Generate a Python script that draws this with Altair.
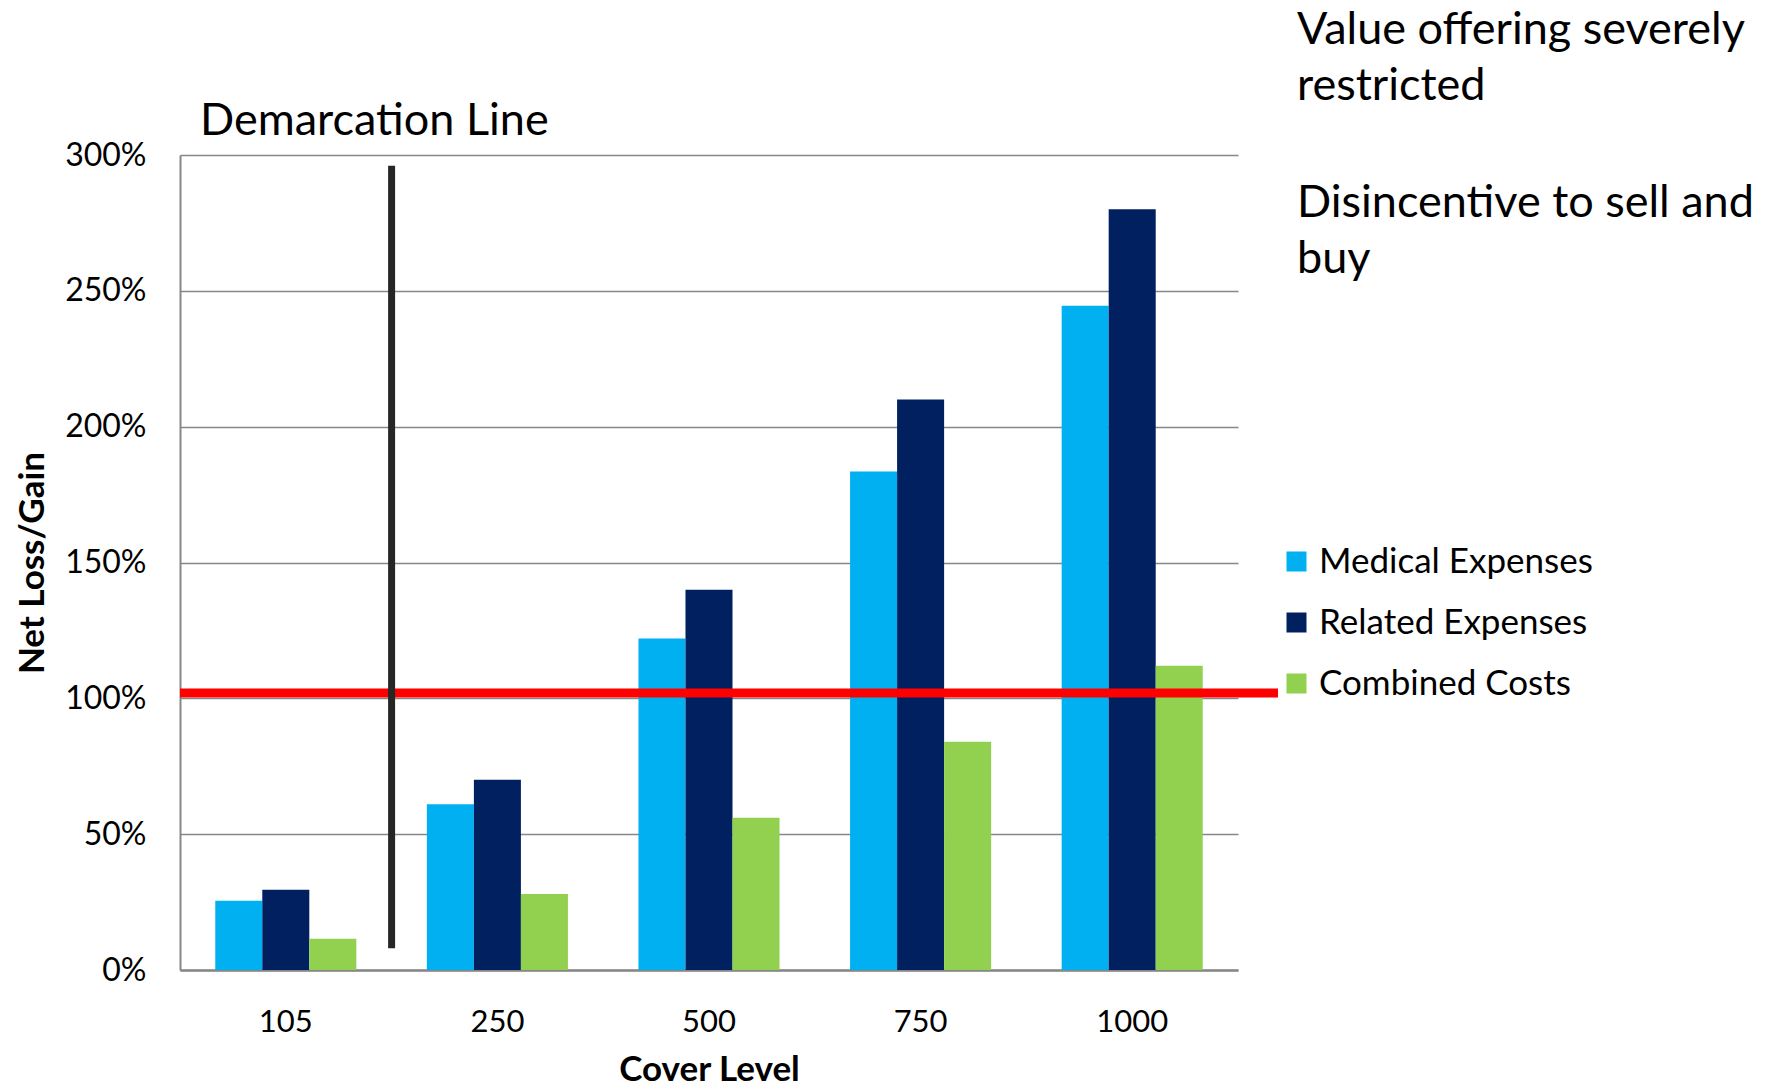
import altair as alt
import pandas as pd

# Chart data
COVER = ["105", "250", "500", "750", "1000"]
SERIES = ["Medical Expenses", "Related Expenses", "Combined Costs"]
MEDICAL = [25.5, 61, 122, 183.5, 244.5]
RELATED = [29.5, 70, 140, 210, 280]
COMBINED = [11.5, 28, 56, 84, 112]
COLORS = ["#00B0F0", "#002060", "#92D050"]
Y_TICKS = [0, 50, 100, 150, 200, 250, 300]
BREAKEVEN = [102]          # red break-even line (%)
DEMARCATION = [8, 296]     # vertical extent of the demarcation line (%)
NOTES = ["Value offering severely", "restricted", "Disincentive to sell and", "buy"]

FONT = "Lato"
W, H = 1058, 815

rows = []
for i, c in enumerate(COVER):
    for s, vals in zip(SERIES, [MEDICAL, RELATED, COMBINED]):
        rows.append({"cover": c, "series": s, "value": vals[i]})
df = pd.DataFrame(rows)

y_axis = alt.Axis(
    title="Net Loss/Gain", values=Y_TICKS, labelExpr="datum.value + '%'",
    labelFont=FONT, labelFontSize=32, labelColor="black", labelPadding=34,
    ticks=False, tickSize=0, domainColor="#878787", domainWidth=2,
    gridColor="#878787", gridWidth=1.5,
    titleFont=FONT, titleFontSize=35, titleFontWeight="bold", titleColor="black",
    titleAngle=270, titleX=-148, titleY=H / 2, titleAlign="center", titleBaseline="middle",
)
x_axis = alt.Axis(
    title="Cover Level", labelAngle=0, labelFont=FONT, labelFontSize=31,
    labelColor="black", labelBaseline="middle", labelPadding=52,
    ticks=False, tickSize=0, domainColor="#878787", domainWidth=2.5, grid=False,
    titleFont=FONT, titleFontSize=35, titleFontWeight="bold", titleColor="black",
    titleX=W / 2, titleY=99, titleAlign="center", titleBaseline="middle",
)

y_scale = alt.Scale(domain=[0, 300], nice=False)

bars = alt.Chart(df).mark_bar().encode(
    x=alt.X("cover:N", sort=COVER, axis=x_axis,
            scale=alt.Scale(paddingInner=1 / 3, paddingOuter=1 / 6)),
    xOffset=alt.XOffset("series:N", sort=SERIES,
                        scale=alt.Scale(paddingInner=0, paddingOuter=0)),
    y=alt.Y("value:Q", scale=y_scale, axis=y_axis),
    color=alt.Color(
        "series:N", sort=SERIES,
        scale=alt.Scale(domain=SERIES, range=COLORS),
        legend=alt.Legend(
            title=None, orient="none", legendX=1099, legendY=389, padding=0,
            symbolType="square", symbolSize=400, symbolStrokeWidth=0,
            labelFont=FONT, labelFontSize=35, labelColor="black", labelLimit=0,
            labelOffset=5, rowPadding=25,
        ),
    ),
)

red_line = alt.Chart(pd.DataFrame({"value": BREAKEVEN})).mark_rule(
    color="#FF0000", strokeWidth=9
).encode(y=alt.Y("value:Q"), x=alt.value(0), x2=alt.value(1098))

demarc = alt.Chart(
    pd.DataFrame({"value": [DEMARCATION[0]], "value2": [DEMARCATION[1]]})
).mark_rule(color="#262626", strokeWidth=7, strokeCap="butt").encode(
    x=alt.value(W / len(COVER)), y=alt.Y("value:Q"), y2="value2:Q"
)

demarc_label = alt.Chart(pd.DataFrame({"t": ["Demarcation Line"]})).mark_text(
    font=FONT, fontSize=45, color="black", align="left", baseline="alphabetic"
).encode(text="t:N", x=alt.value(20), y=alt.value(-20))

notes_df = pd.DataFrame({"t": NOTES, "yy": [-111, -55, 62, 118]})
notes = alt.Chart(notes_df).mark_text(
    font=FONT, fontSize=45, color="black", align="left", baseline="alphabetic"
).encode(text="t:N", x=alt.value(1117), y=alt.Y("yy:Q", scale=None))

chart = alt.layer(bars, red_line, demarc, demarc_label, notes).properties(
    width=W, height=H,
    autosize=alt.AutoSizeParams(type="none"),
    padding={"left": 180, "top": 155, "right": 527, "bottom": 118},
    background="white",
).configure_view(strokeWidth=0)

chart.save("out.html", embed_options={"renderer": "svg", "actions": False})
